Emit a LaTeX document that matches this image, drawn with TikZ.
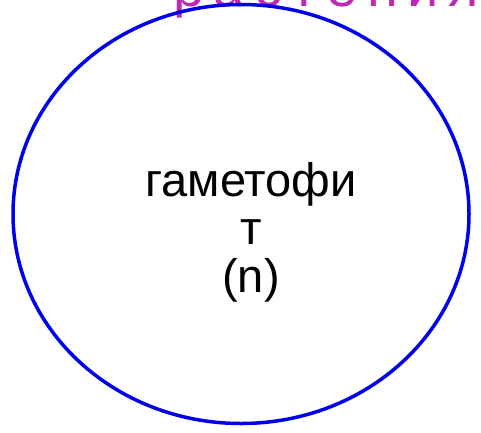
\documentclass[tikz,border=0pt]{standalone}
\usepackage{fontspec}
\setmainfont{Liberation Sans}
\usetikzlibrary{shapes.geometric}
\definecolor{titlemagenta}{RGB}{190,40,180}
\definecolor{ovalblue}{RGB}{0,0,235}

\begin{document}
\begin{tikzpicture}[x=1pt,y=-1pt]
  % рамка рисунка
  \useasboundingbox (0,0) rectangle (481,432);
  \clip (0,0) rectangle (481,432);

  % заголовок сверху (обрезан)
  \node[anchor=base,inner sep=0pt,text=titlemagenta,
        font=\fontsize{56}{64}\selectfont\addfontfeature{LetterSpace=17}]
    (title) at (326,6) {растения};

  % синий овал
  \node[draw=ovalblue,line width=3.5pt,ellipse,inner sep=0pt,
        minimum width=456,minimum height=419] (gameto) at (241,214) {};

  % текст внутри овала
  \node[align=center,inner sep=0pt,font=\fontsize{47}{48}\selectfont]
    (gametext) at (251,232) {гаметофи\\т\\(n)};
\end{tikzpicture}
\end{document}
